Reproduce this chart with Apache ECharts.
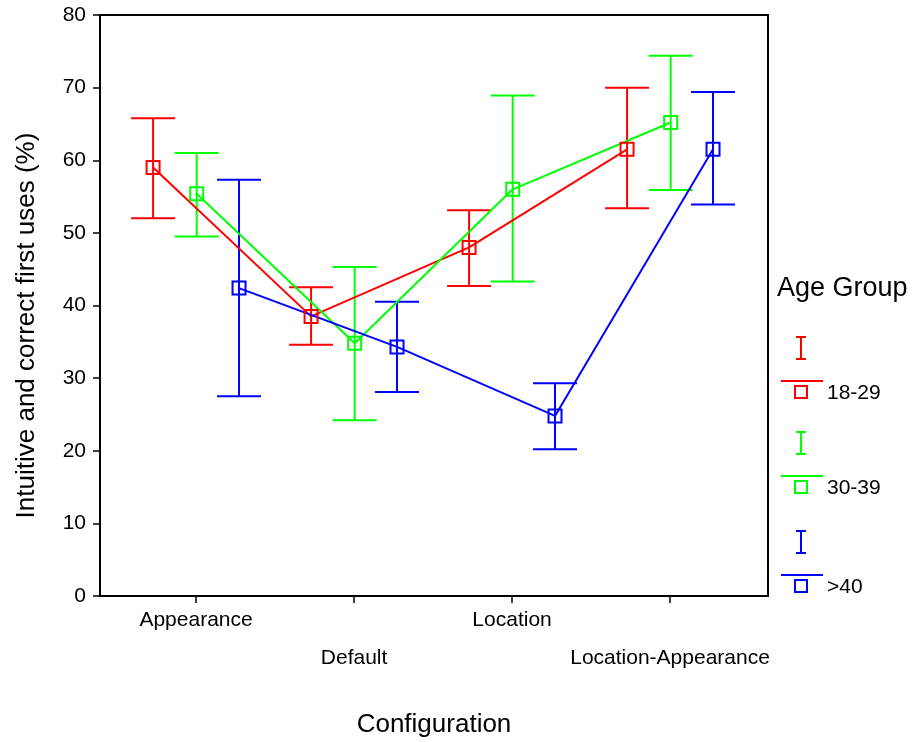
<!DOCTYPE html>
<html>
<head>
<meta charset="utf-8">
<script src="https://cdn.jsdelivr.net/npm/echarts@6/dist/echarts.min.js"></script>
<style>html,body{margin:0;padding:0;background:#fff}#c{width:915px;height:742px}</style>
</head>
<body>
<div id="c"></div>
<script>
const categories = ['Appearance', 'Default', 'Location', 'Location-Appearance'];
const groups = ['18-29', '30-39', '>40'];
const groupColors = ['#ff0000', '#00ff00', '#0000ff'];
const groupOffsets = [-0.272, 0.004, 0.272];

const mean1829 = [59.0, 38.5, 48.0, 61.5];
const low1829  = [52.0, 34.6, 42.7, 53.4];
const high1829 = [65.8, 42.5, 53.1, 70.0];

const mean3039 = [55.4, 34.8, 56.0, 65.2];
const low3039  = [49.5, 24.2, 43.3, 55.9];
const high3039 = [61.0, 45.3, 68.9, 74.4];

const mean40 = [42.4, 34.3, 24.8, 61.5];
const low40  = [27.5, 28.1, 20.2, 53.9];
const high40 = [57.3, 40.5, 29.3, 69.4];

const yTicks = [0, 10, 20, 30, 40, 50, 60, 70, 80];

const means = [mean1829, mean3039, mean40];
const lows = [low1829, low3039, low40];
const highs = [high1829, high3039, high40];

const FONT = '"Liberation Sans", Arial, sans-serif';
const chart = echarts.init(document.getElementById('c'));

function errRender(color) {
  return function (params, api) {
    const x = api.value(0), lo = api.value(1), hi = api.value(2);
    const a = api.coord([x, lo]), b = api.coord([x, hi]);
    const hw = 22;
    const st = { stroke: color, lineWidth: 2, fill: null };
    return {
      type: 'group',
      children: [
        { type: 'line', shape: { x1: a[0], y1: a[1], x2: b[0], y2: b[1] }, style: st },
        { type: 'line', shape: { x1: a[0] - hw, y1: a[1], x2: a[0] + hw, y2: a[1] }, style: st },
        { type: 'line', shape: { x1: b[0] - hw, y1: b[1], x2: b[0] + hw, y2: b[1] }, style: st }
      ]
    };
  };
}

const series = [];
groups.forEach((g, gi) => {
  const color = groupColors[gi];
  series.push({
    type: 'custom',
    name: g + ' err',
    renderItem: errRender(color),
    data: categories.map((c, i) => [i + 1 + groupOffsets[gi], lows[gi][i], highs[gi][i]]),
    encode: { x: 0, y: [1, 2] },
    z: 2,
    silent: true
  });
  series.push({
    type: 'line',
    name: g,
    data: categories.map((c, i) => [i + 1 + groupOffsets[gi], means[gi][i]]),
    symbol: 'rect',
    symbolSize: 13,
    showAllSymbol: true,
    lineStyle: { color: color, width: 2 },
    itemStyle: { color: 'rgba(255,255,255,0)', borderColor: color, borderWidth: 2 },
    z: 3,
    silent: true,
    animation: false
  });
});

// legend drawn as graphic
const legendChildren = [
  { type: 'text', left: 777, top: 275, style: { text: 'Age Group', font: '27px ' + FONT, fill: '#000' } }
];
const legendTop = [337, 432, 531];
groups.forEach((g, gi) => {
  const c = groupColors[gi];
  const t = legendTop[gi];
  const st = { stroke: c, lineWidth: 2, fill: null };
  legendChildren.push(
    { type: 'line', shape: { x1: 801, y1: t, x2: 801, y2: t + 22 }, style: st },
    { type: 'line', shape: { x1: 796, y1: t, x2: 806, y2: t }, style: st },
    { type: 'line', shape: { x1: 796, y1: t + 22, x2: 806, y2: t + 22 }, style: st },
    { type: 'line', shape: { x1: 781, y1: t + 44, x2: 823, y2: t + 44 }, style: st },
    { type: 'rect', shape: { x: 795, y: t + 49, width: 12, height: 12 }, style: { stroke: c, lineWidth: 2, fill: '#fff' } },
    { type: 'text', left: 827, top: t + 46, style: { text: g, font: '21px ' + FONT, fill: '#000' } }
  );
});

chart.setOption({
  animation: false,
  backgroundColor: '#fff',
  grid: { left: 100, right: 147, top: 15, bottom: 146, outerBoundsMode: 'none', containLabel: false, show: true, borderColor: '#000', borderWidth: 2, backgroundColor: 'transparent' },
  xAxis: {
    type: 'value',
    min: 0.392,
    max: 4.62,
    splitLine: { show: false },
    axisLine: { show: true, onZero: false, lineStyle: { color: '#000', width: 2 } },
    axisTick: { show: true, length: 7, customValues: [1, 2, 3, 4], lineStyle: { color: '#000', width: 1.5 } },
    axisLabel: {
      customValues: [1, 2, 3, 4],
      margin: 5,
      formatter: function (v) {
        const i = Math.round(v) - 1;
        const name = categories[i];
        return (i % 2 === 0) ? '{a|' + name + '}' : '{a|}\n{a|' + name + '}';
      },
      rich: { a: { fontSize: 21, fontFamily: FONT, color: '#000', lineHeight: 38 } },
      color: '#000'
    },
    name: 'Configuration',
    nameLocation: 'middle',
    nameGap: 116,
    nameTextStyle: { fontSize: 26, fontFamily: FONT, color: '#000' }
  },
  yAxis: {
    type: 'value',
    min: yTicks[0],
    max: yTicks[yTicks.length - 1],
    interval: 10,
    splitLine: { show: false },
    axisLine: { show: true, lineStyle: { color: '#000', width: 2 } },
    axisTick: { show: true, length: 7, lineStyle: { color: '#000', width: 1.5 } },
    axisLabel: { fontSize: 21, fontFamily: FONT, color: '#000', margin: 14 },
    name: 'Intuitive and correct first uses (%)',
    nameLocation: 'middle',
    nameGap: 60,
    nameRotate: 90,
    nameTextStyle: { fontSize: 26, fontFamily: FONT, color: '#000', padding: [0, 40, 0, 0] }
  },
  series: series,
  graphic: legendChildren
});
</script>
</body>
</html>
